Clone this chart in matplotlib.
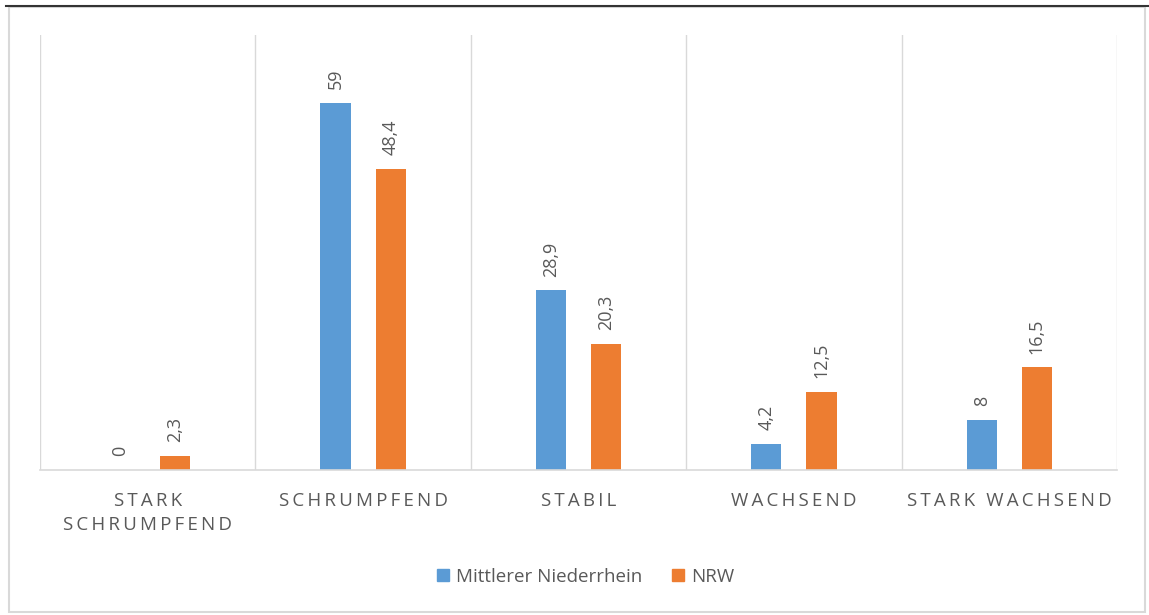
import numpy as np
import matplotlib.pyplot as plt
from matplotlib.patches import Rectangle
from matplotlib.lines import Line2D

plt.rcParams['font.family'] = ['Open Sans', 'DejaVu Sans']

categories = ["STARK\nSCHRUMPFEND", "SCHRUMPFEND", "STABIL", "WACHSEND", "STARK WACHSEND"]
mittlerer = [0, 59, 28.9, 4.2, 8]
nrw = [2.3, 48.4, 20.3, 12.5, 16.5]
series_names = ["Mittlerer Niederrhein", "NRW"]

blue = "#5B9BD5"
orange = "#ED7D31"
grey_txt = "#595959"
grid_col = "#D9D9D9"


def spaced(s):
    # emulate the wide letter spacing of the axis labels
    return "\n".join("\u2009".join(line) for line in s.split("\n"))


fig = plt.figure(figsize=(11.49, 6.15), dpi=100)
W, H = 1149, 615

# outer frame of the chart
fig.add_artist(Rectangle((9 / W, 3 / H), 1136 / W, 605 / H, transform=fig.transFigure,
                         fill=False, edgecolor=grid_col, linewidth=1.5))
fig.add_artist(Line2D([6 / W, 1], [1 - 6 / H, 1 - 6 / H], transform=fig.transFigure,
                      color="#333333", linewidth=1.5))

ax = fig.add_axes([40 / W, 1 - 470 / H, 1077 / W, 435 / H])

x = np.arange(len(categories))
w = 0.14
off = 0.128
b1 = ax.bar(x - off, mittlerer, w, color=blue, label=series_names[0])
b2 = ax.bar(x + off, nrw, w, color=orange, label=series_names[1])

for bars, vals in ((b1, mittlerer), (b2, nrw)):
    for r, v in zip(bars, vals):
        lab = ("%g" % v).replace(".", ",")
        ax.annotate(lab, (r.get_x() + r.get_width() / 2, r.get_height()),
                    xytext=(0, 10), textcoords="offset points", rotation=90,
                    ha="center", va="bottom", fontsize=13, color=grey_txt)

ax.set_xlim(-0.5, len(categories) - 0.5)
ax.set_ylim(0, 70)
ax.set_yticks([])
ax.set_xticks(x)
ax.set_xticklabels([spaced(c) for c in categories], fontsize=13.5, color=grey_txt,
                   linespacing=1.4)
ax.tick_params(axis="x", length=0, pad=16)
ax.set_xticks(np.arange(-0.5, len(categories)), minor=True)
ax.tick_params(axis="x", which="minor", length=0)
ax.grid(axis="x", which="minor", color=grid_col, linewidth=1)
ax.set_axisbelow(True)
for s in ("top", "left", "right"):
    ax.spines[s].set_visible(False)
ax.spines["bottom"].set_color(grid_col)
ax.spines["bottom"].set_linewidth(1.2)

handles = [Line2D([0], [0], marker="s", linestyle="none", markersize=9,
                  markerfacecolor=c, markeredgecolor=c) for c in (blue, orange)]
fig.legend(handles, series_names, loc="center", bbox_to_anchor=(585 / W, 1 - 577 / H),
           ncol=2, frameon=False, fontsize=13.5, labelcolor=grey_txt,
           handletextpad=0.3, columnspacing=1.5, handlelength=0.8)

fig.savefig("out.png", dpi=100)
